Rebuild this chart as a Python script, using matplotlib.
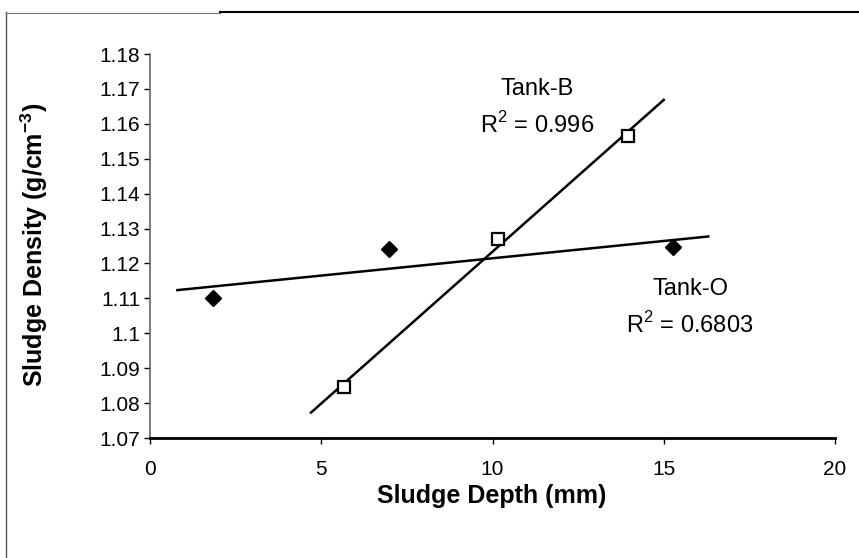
import numpy as np
import matplotlib
matplotlib.use("Agg")
import matplotlib.pyplot as plt
from matplotlib.lines import Line2D

plt.rcParams['font.family'] = ['Liberation Sans', 'DejaVu Sans']

# Data
tank_o_depth = [1.85, 6.98, 15.27]
tank_o_density = [1.110, 1.124, 1.1246]
tank_b_depth = [5.66, 10.16, 13.96]
tank_b_density = [1.0846, 1.127, 1.1566]
tank_o_range = [0.8, 16.3]
tank_b_range = [4.7, 15.0]
x_ticks = [0, 5, 10, 15, 20]
y_ticks = [1.07, 1.08, 1.09, 1.10, 1.11, 1.12, 1.13, 1.14, 1.15, 1.16, 1.17, 1.18]
y_tick_labels = ["1.07", "1.08", "1.09", "1.1", "1.11", "1.12", "1.13", "1.14", "1.15", "1.16", "1.17", "1.18"]

fig = plt.figure(figsize=(8.59, 5.58), dpi=100)
ax = fig.add_axes([150/859, 1-438/558, (835-150)/859, (438-54)/558])

# trend lines (least squares fits)
for xs, ys, rng in [(tank_o_depth, tank_o_density, tank_o_range),
                    (tank_b_depth, tank_b_density, tank_b_range)]:
    m, b = np.polyfit(xs, ys, 1)
    xr = np.array(rng)
    ax.plot(xr, m*xr + b, color='black', lw=1.8, zorder=2)

ax.plot(tank_o_depth, tank_o_density, linestyle='none', marker='D', ms=8,
        color='black', zorder=3)
ax.plot(tank_b_depth, tank_b_density, linestyle='none', marker='s', ms=9,
        markerfacecolor='white', markeredgecolor='black', mew=1.6, zorder=3)

ax.set_xlim(0, 20)
ax.set_ylim(1.07, 1.18)
ax.set_xticks(x_ticks)
ax.set_yticks(y_ticks)
ax.set_yticklabels(y_tick_labels)
ax.tick_params(axis='both', labelsize=15, direction='out', length=4, width=1, colors='black')
ax.tick_params(axis='x', pad=12)
ax.tick_params(axis='y', pad=3)

for s in ['top', 'right']:
    ax.spines[s].set_visible(False)
ax.spines['left'].set_color('#666666')
ax.spines['left'].set_linewidth(1.2)
ax.spines['bottom'].set_color('black')
ax.spines['bottom'].set_linewidth(2)

ax.set_xlabel('Sludge Depth (mm)', fontsize=18, fontweight='bold')
ax.set_ylabel('Sludge Density (g/cm$^{\\mathregular{-3}}$)', fontsize=18, fontweight='bold')
ax.xaxis.set_label_coords((492-150)/685, -(484-438)/384)
ax.yaxis.set_label_coords(-(150-50)/685, (438-245)/384)

fs = 17
ax.text(11.3, 1.170, 'Tank-B', ha='center', va='center', fontsize=fs)
ax.text(11.3, 1.1597, 'R$^{\\mathregular{2}}$ = 0.996', ha='center', va='center', fontsize=fs)
ax.text(15.77, 1.1126, 'Tank-O', ha='center', va='center', fontsize=fs)
ax.text(15.77, 1.1023, 'R$^{\\mathregular{2}}$ = 0.6803', ha='center', va='center', fontsize=fs)

# outer frame lines
fig.add_artist(Line2D([6/859, 6/859], [0, 1-12/558], transform=fig.transFigure, color='#555555', lw=1))
fig.add_artist(Line2D([6/859, 220/859], [1-13/558, 1-13/558], transform=fig.transFigure, color='#777777', lw=0.8))
fig.add_artist(Line2D([220/859, 1], [1-12/558, 1-12/558], transform=fig.transFigure, color='black', lw=1.5))

fig.savefig('out.png', dpi=100)
